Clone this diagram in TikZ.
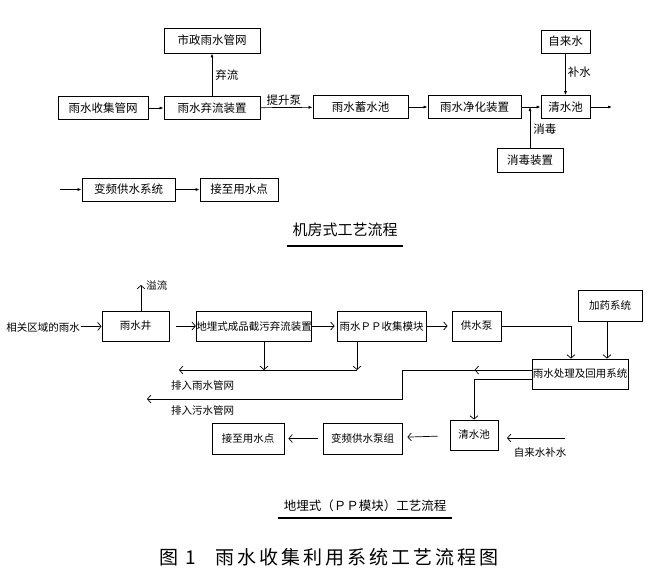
\documentclass[tikz,border=0pt]{standalone}
\usepackage{fontspec}
\setmainfont{Noto Sans CJK SC}
\usetikzlibrary{arrows.meta,decorations.markings}
\tikzset{
  box/.style={draw, line width=0.8pt, inner sep=0pt, font=\fontsize{11.5}{12}\selectfont},
  boxb/.style={draw, line width=0.8pt, inner sep=0pt, minimum height=30pt, font=\fontsize{10.5}{11}\selectfont},
  lbl/.style={font=\fontsize{11.5}{12}\selectfont, inner sep=1pt},
  lblb/.style={font=\fontsize{10.5}{11}\selectfont, inner sep=1pt},
  fl/.style={line width=0.7pt, -{Latex[length=4pt,width=3pt]}},
  bl/.style={line width=0.7pt, -{Straight Barb[length=3.5pt,width=8pt]}},
  pl/.style={line width=0.7pt},
}
\begin{document}
\begin{tikzpicture}[x=1pt,y=-1pt]
\useasboundingbox[fill=white] (0,0) rectangle (667,582);
% ---------- top section ----------
\node[box, minimum width=96pt, minimum height=25pt] (sz) at (212,40.5) {市政雨水管网};
\node[box, minimum width=90pt, minimum height=23pt] (sj) at (103,108) {雨水收集管网};
\node[box, minimum width=96pt, minimum height=23pt] (ql) at (212,108) {雨水弃流装置};
\node[box, minimum width=95pt, minimum height=23pt] (xs) at (360.5,107) {雨水蓄水池};
\node[box, minimum width=93pt, minimum height=23pt] (jh) at (474.5,107) {雨水净化装置};
\node[box, minimum width=49pt, minimum height=23pt] (qs) at (565.5,107) {清水池};
\node[box, minimum width=49pt, minimum height=23pt] (zl) at (565.5,41.5) {自来水};
\node[box, minimum width=66pt, minimum height=24pt] (xd) at (530,160) {消毒装置};
\coordinate (qout) at (612,107);

\draw[fl] (sj) -- (ql);
\draw[fl] (ql) -- node[lbl, right=2pt] {弃流} (sz);
\draw[fl] (ql) -- node[lbl, above=1pt, pos=0.45] {提升泵} (xs);
\draw[fl] (xs) -- (jh);
\draw[fl] (jh) -- (qs);
\draw[fl] (zl) -- node[lbl, right=1pt, pos=0.45] {补水} (qs);
\draw[fl] (xd.north) -- node[lbl, right=2pt, pos=0.45] {消毒} (xd.north |- qs.west);
\draw[fl] (qs) -- (qout);

\coordinate (bin) at (60,189.5);
\node[box, minimum width=93pt, minimum height=23pt] (bp) at (128.5,189.5) {变频供水系统};
\node[box, minimum width=78pt, minimum height=23pt] (yd) at (239,189.5) {接至用水点};
\draw[fl] (bin) -- (bp);
\draw[fl] (bp) -- (yd);

\node[font=\fontsize{15}{16}\selectfont, inner sep=0pt] (t1) at (345,230) {机房式工艺流程};
\draw[line width=2pt] (287,246) -- (403,246);

% ---------- bottom section ----------
\node[lblb] (src) at (43,327) {相关区域的雨水};
\node[boxb, minimum width=67pt] (ysj) at (135.5,326) {雨水井};
\node[boxb, minimum width=112pt] (dm) at (254,326) {地埋式成品截污弃流装置};
\node[boxb, minimum width=89pt] (pp) at (381.5,326) {雨水ＰＰ收集模块};
\node[boxb, minimum width=49pt] (gsb) at (476.5,326) {供水泵};
\node[boxb, minimum width=64pt, minimum height=31pt] (jy) at (610,305.5) {加药系统};
\node[boxb, minimum width=96pt] (cl) at (580,374) {雨水处理及回用系统};
\node[boxb, minimum width=48pt] (qs2) at (474,435) {清水池};
\node[boxb, minimum width=79pt, minimum height=31pt] (bz) at (362.5,438.5) {变频供水泵组};
\node[boxb, minimum width=72pt, minimum height=31pt] (yd2) at (248,438.5) {接至用水点};

\coordinate (yl) at (141,285);
\coordinate (r0) at (179,370);
\coordinate (r1) at (264,370);
\coordinate (r2) at (357,370);
\coordinate (w0) at (147,399);
\coordinate (zs) at (565,438);
\coordinate (zt) at (507,438);

\draw[bl] (src) -- (ysj);
\draw[bl] (ysj.north -| yl) -- (yl) node[lblb, right=4pt, anchor=west] {溢流};
\draw[bl, shorten <=7pt] (ysj) -- (dm);
\draw[bl, shorten >=2pt] (dm) -- (pp);
\draw[bl, shorten >=4pt] (pp) -- (gsb);
\draw[bl] (gsb.east) -| ([xshift=-9pt]cl.north);
\draw[bl] (jy.south -| 607,0) -- (607,0 |- cl.north);
\draw[bl] (dm.south -| r1) -- (r1);
\draw[bl] (pp.south -| r2) -- (r2);
\draw[bl] (r2) -- (r0);
\node[lblb, anchor=west] (l1) at (170,385) {排入雨水管网};
\draw[bl, postaction={decorate}, decoration={markings, mark=at position 57pt with {\arrow{Straight Barb[length=3.5pt,width=8pt]}}}]
  ([yshift=4pt]cl.west) -- (402,370) -- (402,399) -- (w0);
\node[lblb, anchor=west] (l2) at (170,410) {排入污水管网};
\draw[bl] ([yshift=-5pt]cl.west) -| (qs2.north);
\draw[bl, shorten <=12pt, shorten >=5pt] (qs2) -- (bz);
\draw[bl, shorten <=5pt, shorten >=4pt] (bz) -- (yd2);
\draw[bl] (zs) -- (zt);
\node[lblb] (zlb) at (540,452) {自来水补水};

\node[font=\fontsize{12.5}{13}\selectfont, inner sep=0pt] (t2) at (365,506) {地埋式（ＰＰ模块）工艺流程};
\draw[line width=1.6pt] (278,518) -- (452,518);

\node[font=\fontsize{19}{20}\selectfont\addfontfeature{LetterSpace=16}, inner sep=0pt] (cap) at (329,557) {图~1\quad 雨水收集利用系统工艺流程图};
\end{tikzpicture}
\end{document}
